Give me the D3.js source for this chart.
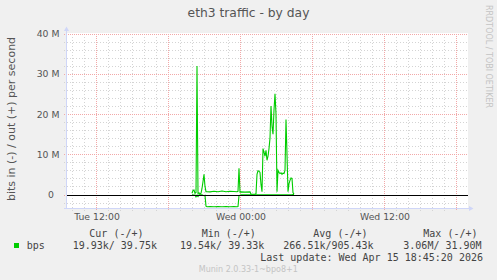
<!DOCTYPE html>
<html>
<head>
<meta charset="utf-8">
<script src="https://cdn.jsdelivr.net/npm/d3@7"></script>
<style>
  body { margin: 0; background: #f0f0f0; }
  svg { display: block; }
</style>
</head>
<body>
<svg id="chart" width="497" height="280"></svg>
<script>
document.addEventListener("DOMContentLoaded", () => {
  "use strict";

  // samples (5 min steps where the line moves)
  const TIMES = [
    "2026-04-14 20:00", "2026-04-14 20:05", "2026-04-14 20:10", "2026-04-14 20:15",
    "2026-04-14 20:20", "2026-04-14 20:25", "2026-04-14 20:30", "2026-04-14 20:35",
    "2026-04-14 20:40", "2026-04-14 20:45", "2026-04-14 20:50", "2026-04-14 20:55",
    "2026-04-14 21:00", "2026-04-14 21:05", "2026-04-14 21:10", "2026-04-14 21:15",
    "2026-04-14 21:30", "2026-04-14 21:50", "2026-04-14 22:10", "2026-04-14 22:30",
    "2026-04-14 22:50", "2026-04-14 23:10", "2026-04-14 23:30", "2026-04-14 23:45",
    "2026-04-14 23:50", "2026-04-14 23:55", "2026-04-15 00:00", "2026-04-15 00:05",
    "2026-04-15 00:25", "2026-04-15 00:50", "2026-04-15 00:55", "2026-04-15 01:15",
    "2026-04-15 01:20", "2026-04-15 01:25", "2026-04-15 01:30", "2026-04-15 01:35",
    "2026-04-15 01:40", "2026-04-15 01:45", "2026-04-15 01:50", "2026-04-15 01:55",
    "2026-04-15 02:00", "2026-04-15 02:05", "2026-04-15 02:10", "2026-04-15 02:15",
    "2026-04-15 02:20", "2026-04-15 02:25", "2026-04-15 02:30", "2026-04-15 02:35",
    "2026-04-15 02:40", "2026-04-15 02:45", "2026-04-15 02:50", "2026-04-15 02:55",
    "2026-04-15 03:00", "2026-04-15 03:05", "2026-04-15 03:10", "2026-04-15 03:15",
    "2026-04-15 03:20", "2026-04-15 03:25", "2026-04-15 03:30", "2026-04-15 03:35",
    "2026-04-15 03:40", "2026-04-15 03:45", "2026-04-15 03:50", "2026-04-15 03:55",
    "2026-04-15 04:00", "2026-04-15 04:05", "2026-04-15 04:10", "2026-04-15 04:15",
    "2026-04-15 04:20", "2026-04-15 04:25", "2026-04-15 04:30"
  ];

  // Mbit/s, out drawn above zero
  const OUT_M = [
    0.3, 1.0, 1.1, 0.3,
    0.5, 31.9, 0.2, 0.4,
    0.1, 0.3, 1.5, 3.2,
    5.0, 2.0, 0.7, 0.7,
    0.65, 0.8, 0.7, 0.85,
    0.7, 0.8, 0.75, 0.7,
    0.8, 6.5, 0.6, 0.65,
    0.6, 0.65, 0.05, 0.05,
    0.2, 5.0, 5.9, 5.8,
    5.5, 2.5, 0.7, 11.4,
    10.5, 9.5, 11.0, 8.5,
    9.5, 11.4, 14.0, 22.0,
    17.0, 15.0, 21.0, 25.0,
    20.0, 0.7, 6.0, 5.5,
    5.2, 5.4, 5.0, 5.3,
    5.2, 6.0, 18.6, 10.0,
    0.7, 2.7, 3.5, 4.1,
    4.0, 0.5, 0.04
  ];

  // Mbit/s, in drawn below zero
  const IN_M = [
    -0.1, -0.1, -0.2, -0.1,
    -0.6, -0.2, -0.5, -0.1,
    -0.1, -0.1, -0.1, -0.2,
    -0.3, -0.2, -2.9, -3.05,
    -3.0, -3.05, -3.0, -3.06,
    -3.0, -3.05, -3.0, -3.06,
    -3.0, -0.3, -0.2, -0.1,
    -0.1, -0.1, -0.05, -0.05,
    -0.05, -0.1, -0.1, -0.05,
    -0.05, -0.05, -0.05, -0.1,
    -0.05, -0.05, -0.05, -0.05,
    -0.05, -0.05, -0.05, -0.1,
    -0.1, -0.05, -0.1, -0.1,
    -0.1, -0.05, -0.05, -0.05,
    -0.05, -0.05, -0.05, -0.05,
    -0.05, -0.05, -0.1, -0.05,
    -0.05, -0.05, -0.05, -0.05,
    -0.05, -0.02, -0.02
  ];

  const Y_TICKS  = [0, 10, 20, 30, 40];
  const Y_LABELS = ["0", "10 M", "20 M", "30 M", "40 M"];
  const X_LABEL_TIMES = ["2026-04-14 12:00", "2026-04-15 00:00", "2026-04-15 12:00"];
  const X_LABELS = ["Tue 12:00", "Wed 00:00", "Wed 12:00"];
  const X_DOMAIN = ["2026-04-14 09:35", "2026-04-15 18:55"];
  const Y_DOMAIN = [-3.354, 40];

  const LEGEND_HEAD = ["Cur (-/+)", "Min (-/+)", "Avg (-/+)", "Max (-/+)"];
  const LEGEND_VALS = ["19.93k/ 39.75k", "19.54k/ 39.33k", "266.51k/905.43k", "3.06M/ 31.90M"];

  const parse = d3.timeParse("%Y-%m-%d %H:%M");
  const svg = d3.select("#chart");

  const L = 67, R = 467, T = 33.5, B = 208;
  const x = d3.scaleTime().domain(X_DOMAIN.map(parse)).range([L, R]);
  const y = d3.scaleLinear().domain(Y_DOMAIN).range([B, T]);

  const SANS = "'DejaVu Sans', sans-serif";
  const MONO = "'DejaVu Sans Mono', monospace";
  const GREEN = "#00cc00";

  svg.append("rect").attr("width", 497).attr("height", 280).attr("fill", "#f0f0f0");
  svg.append("rect").attr("x", L).attr("y", T - 0.5).attr("width", R + 1 - L).attr("height", B - T + 0.5)
    .attr("fill", "#fff");

  const grid = svg.append("g").attr("shape-rendering", "crispEdges");

  // minor grid
  const minorY = d3.range(-2, 41, 2).filter(v => v % 10 !== 0);
  grid.selectAll("line.my").data(minorY).join("line")
    .attr("x1", L - 3).attr("x2", R + 1)
    .attr("y1", d => Math.round(y(d)) + 0.5).attr("y2", d => Math.round(y(d)) + 0.5)
    .attr("stroke", "#d4d4d4").attr("stroke-dasharray", "1,2");

  const hours = x.ticks(d3.timeHour.every(1)).filter(d => d.getHours() % 6 !== 0);
  grid.selectAll("line.mx").data(hours).join("line")
    .attr("x1", d => Math.round(x(d)) + 0.5).attr("x2", d => Math.round(x(d)) + 0.5)
    .attr("y1", T).attr("y2", B + 3)
    .attr("stroke", "#d4d4d4").attr("stroke-dasharray", "1,2");

  // major grid
  grid.selectAll("line.My").data(Y_TICKS).join("line")
    .attr("x1", L - 3).attr("x2", R + 1)
    .attr("y1", d => Math.round(y(d)) + 0.5).attr("y2", d => Math.round(y(d)) + 0.5)
    .attr("stroke", "#f2a8a8").attr("stroke-dasharray", "1,1");

  const six = x.ticks(d3.timeHour.every(6));
  grid.selectAll("line.Mx").data(six).join("line")
    .attr("x1", d => Math.round(x(d)) + 0.5).attr("x2", d => Math.round(x(d)) + 0.5)
    .attr("y1", T).attr("y2", B + 3)
    .attr("stroke", "#f2a8a8").attr("stroke-dasharray", "1,1");

  // data
  const rows = TIMES.map((t, i) => ({ t: parse(t), out: OUT_M[i], inn: IN_M[i] }));
  const line = key => d3.line().x(d => x(d.t)).y(d => y(d[key]));
  svg.append("path").datum(rows).attr("d", line("inn"))
    .attr("fill", "none").attr("stroke", GREEN).attr("stroke-width", 1.1);
  svg.append("path").datum(rows).attr("d", line("out"))
    .attr("fill", "none").attr("stroke", GREEN).attr("stroke-width", 1.1);

  // zero line
  svg.append("line").attr("shape-rendering", "crispEdges")
    .attr("x1", L).attr("x2", R + 1)
    .attr("y1", Math.round(y(0)) + 0.5).attr("y2", Math.round(y(0)) + 0.5)
    .attr("stroke", "#000");

  // axes with arrows
  const AX = "#cfd6f8";
  svg.append("line").attr("shape-rendering", "crispEdges")
    .attr("x1", L - 0.5).attr("x2", L - 0.5).attr("y1", B + 0.5).attr("y2", 30)
    .attr("stroke", AX);
  svg.append("path").attr("d", `M${L - 3},31 L${L - 0.5},26.5 L${L + 2},31 Z`).attr("fill", AX);
  svg.append("line").attr("shape-rendering", "crispEdges")
    .attr("x1", L - 3).attr("x2", R + 3).attr("y1", B + 0.5).attr("y2", B + 0.5)
    .attr("stroke", AX);
  svg.append("path").attr("d", `M${R + 2},${B - 2} L${R + 6.5},${B + 0.5} L${R + 2},${B + 3} Z`).attr("fill", AX);

  // tick labels
  svg.selectAll("text.yl").data(Y_TICKS).join("text")
    .attr("x", (d, i) => i === 0 ? 54 : 59.5)
    .attr("y", d => y(d) + 3.5)
    .attr("text-anchor", "end")
    .attr("font-family", SANS).attr("font-size", 9.3).attr("fill", "#555")
    .text((d, i) => Y_LABELS[i]);

  svg.selectAll("text.xl").data(X_LABEL_TIMES).join("text")
    .attr("x", d => x(parse(d)) + 1)
    .attr("y", 220)
    .attr("text-anchor", "middle")
    .attr("font-family", SANS).attr("font-size", 9.3).attr("fill", "#555")
    .text((d, i) => X_LABELS[i]);

  // title, unit label, watermark
  svg.append("text").attr("x", 248.5).attr("y", 17.3).attr("text-anchor", "middle")
    .attr("font-family", SANS).attr("font-size", 12.3).attr("fill", "#555")
    .text("eth3 traffic - by day");

  svg.append("text").attr("transform", "translate(15,119) rotate(-90)").attr("text-anchor", "middle")
    .attr("font-family", SANS).attr("font-size", 11).attr("fill", "#555")
    .text("bits in (-) / out (+) per second");

  svg.append("text").attr("transform", "translate(486,5) rotate(90)")
    .attr("font-family", SANS).attr("font-size", 8).attr("fill", "#c4c4c4")
    .text("RRDTOOL / TOBI OETIKER");

  // legend
  const leg = svg.append("g").attr("font-family", MONO).attr("font-size", 10).attr("fill", "#444");
  const headX = [89.3, 201.7, 313.3, 423.3];
  const valX = [72.7, 180, 283.3, 403.3];
  leg.selectAll("text.h").data(LEGEND_HEAD).join("text")
    .attr("x", (d, i) => headX[i]).attr("y", 236.5).attr("xml:space", "preserve").text(d => d);
  leg.selectAll("text.v").data(LEGEND_VALS).join("text")
    .attr("x", (d, i) => valX[i]).attr("y", 249).attr("xml:space", "preserve").text(d => d);

  svg.append("rect").attr("x", 14).attr("y", 243).attr("width", 5).attr("height", 5).attr("fill", GREEN);
  leg.append("text").attr("x", 26.7).attr("y", 249).text("bps");
  leg.append("text").attr("x", 483).attr("y", 261).attr("text-anchor", "end")
    .text("Last update: Wed Apr 15 18:45:20 2026");

  svg.append("text").attr("x", 248.3).attr("y", 271.5).attr("text-anchor", "middle")
    .attr("font-family", SANS).attr("font-size", 8).attr("fill", "#c4c4c4")
    .text("Munin 2.0.33-1~bpo8+1");
});
</script>
</body>
</html>
